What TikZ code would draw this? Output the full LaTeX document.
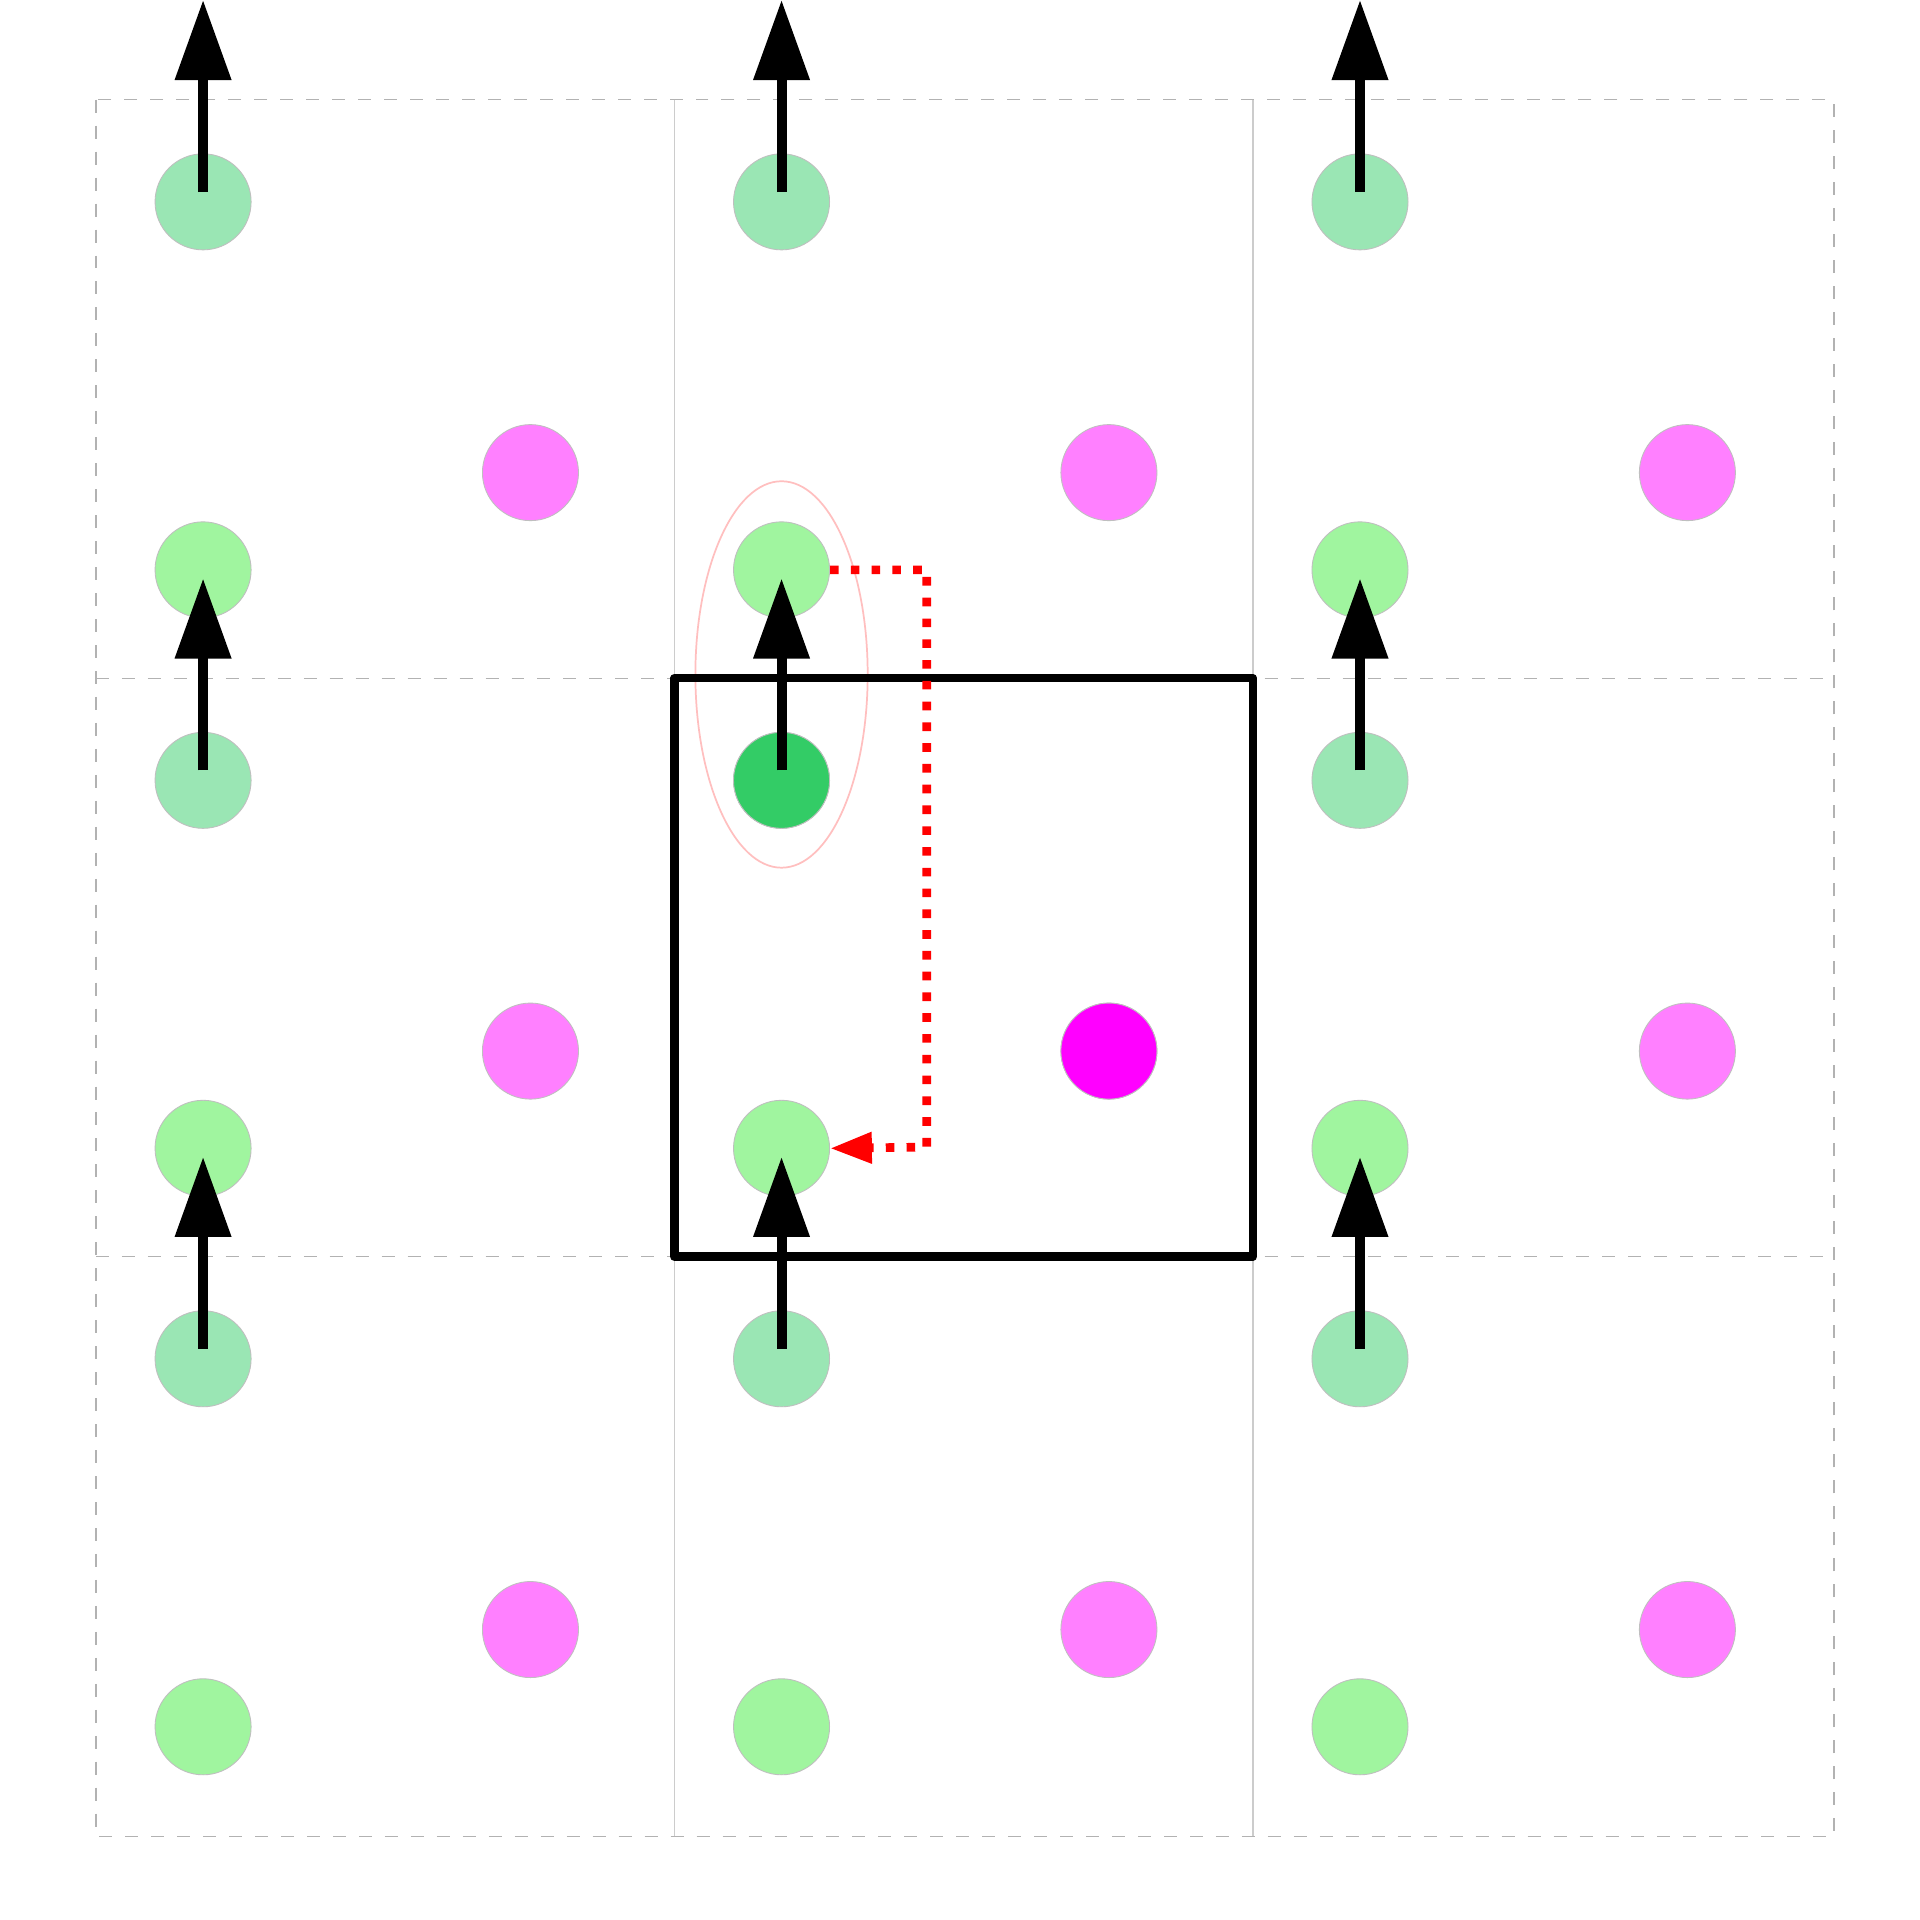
\documentclass[tikz,border=0pt]{standalone}
\usetikzlibrary{arrows.meta}
\definecolor{teal1}{HTML}{9AE6B4}
\definecolor{lgreen}{HTML}{A0F59F}
\definecolor{lmag}{HTML}{FF80FF}
\definecolor{dgreen}{HTML}{33CC66}
\definecolor{fmag}{HTML}{FF00FF}
\tikzset{
 dot/.style={circle,minimum size=0.78cm,inner sep=0,draw=black!25,line width=0.2pt},
 arr/.style={line width=2.3pt,-{Triangle[length=0.65cm,width=0.44cm]}},
}
\begin{document}
\begin{tikzpicture}[x=0.01cm,y=-0.01cm]
\useasboundingbox (0,0) rectangle (1560,1560);
\fill[white] (0,0) rectangle (1560,1560);
% grid
\draw[gray!60,dashed,line width=0.3pt] (78,81) rectangle (1490,1492);
\foreach \y in {551,1021} \draw[gray!60,dashed,line width=0.3pt] (78,\y) -- (1490,\y);
\foreach \x in {548,1018} \draw[gray!40,line width=0.3pt] (\x,81) -- (\x,1492);
% dots
\foreach \i in {0,1,2} \foreach \j in {0,1,2} {
  \pgfmathsetmacro\xo{78+470*\i}
  \pgfmathsetmacro\yo{81+470*\j}
  \node[dot,fill=teal1] (t\i\j) at (\xo+87,\yo+83) {};
  \node[dot,fill=lgreen] (g\i\j) at (\xo+87,\yo+382) {};
  \node[dot,fill=lmag] (m\i\j) at (\xo+353,\yo+303) {};
}
\node[dot,fill=dgreen] at (t11.center) {};
\node[dot,fill=fmag] at (m11.center) {};
% ellipse
\draw[red!25,line width=0.4pt] (635,548) ellipse [x radius=70,y radius=157];
% box
\draw[line width=2pt,line join=round] (548,551) rectangle (1018,1021);
% arrows
\foreach \i in {0,1,2} \foreach \j in {0,1,2} {
  \draw[arr] ([yshift=8*0.01cm]t\i\j.center) -- (t\i\j |- 0,{470*\j});
}
% red dotted
\draw[red,line width=2pt,dash pattern=on 2pt off 2.8pt,-{Triangle[length=0.34cm,width=0.24cm]}]
  (g10.east) -| (753,932) -- (g11.east);
\end{tikzpicture}
\end{document}
